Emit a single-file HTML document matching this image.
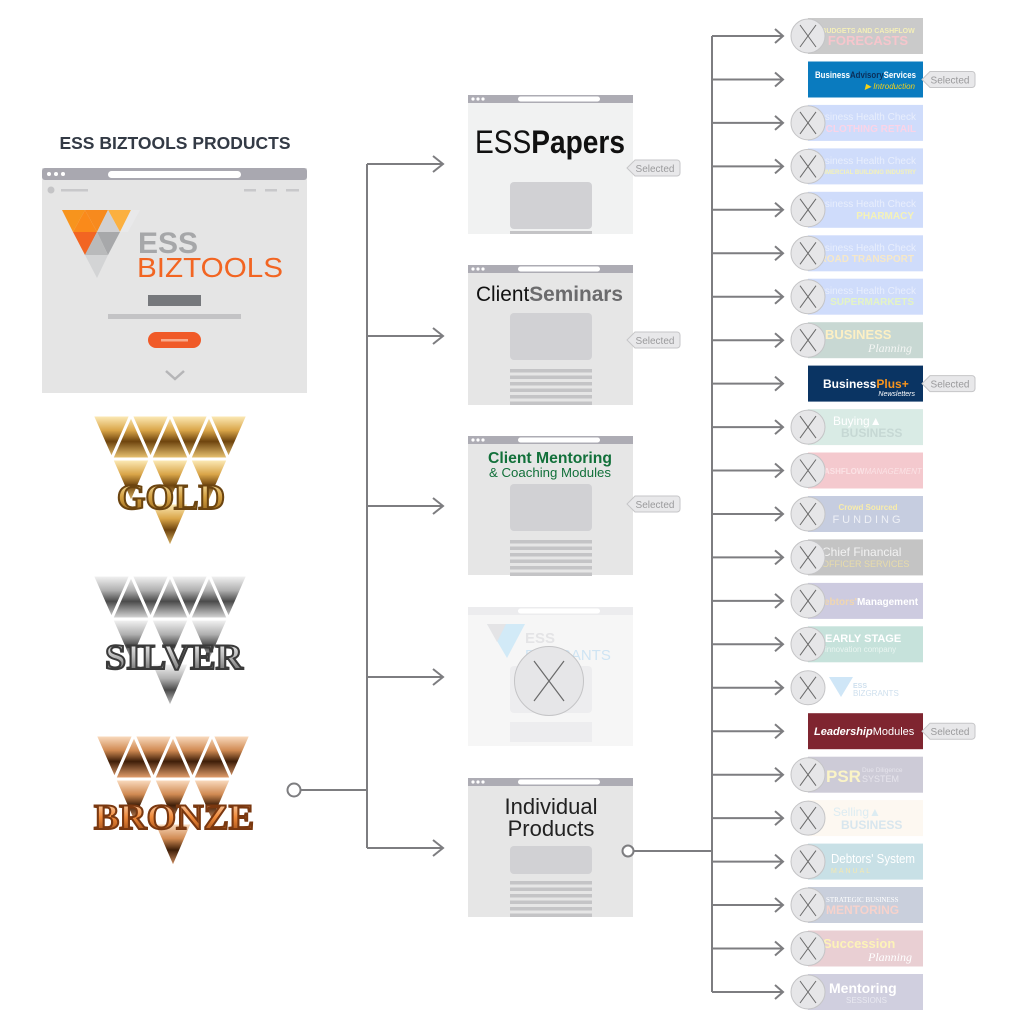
<!DOCTYPE html>
<html><head><meta charset="utf-8"><style>
html,body{margin:0;padding:0;background:#fff;}
svg{display:block;font-family:"Liberation Sans",sans-serif;}
</style></head><body>
<svg width="1024" height="1024" viewBox="0 0 1024 1024" xmlns="http://www.w3.org/2000/svg">
<defs>
<linearGradient id="gold" x1="0" y1="0" x2="0" y2="1"><stop offset="0" stop-color="#fff0c0"/><stop offset=".35" stop-color="#d9a548"/><stop offset=".6" stop-color="#6e440e"/><stop offset="1" stop-color="#f2cc78"/></linearGradient>
<linearGradient id="silver" x1="0" y1="0" x2="0" y2="1"><stop offset="0" stop-color="#f8f8f8"/><stop offset=".35" stop-color="#b0b0b0"/><stop offset=".6" stop-color="#4a4a4a"/><stop offset="1" stop-color="#e0e0e0"/></linearGradient>
<linearGradient id="bronze" x1="0" y1="0" x2="0" y2="1"><stop offset="0" stop-color="#fde2c8"/><stop offset=".35" stop-color="#d08a52"/><stop offset=".6" stop-color="#3e1e08"/><stop offset="1" stop-color="#f0a874"/></linearGradient>
<linearGradient id="goldT" x1="0" y1="0" x2="0" y2="1"><stop offset="0" stop-color="#fff3c4"/><stop offset=".5" stop-color="#d4a040"/><stop offset="1" stop-color="#8a5a14"/></linearGradient>
<linearGradient id="silverT" x1="0" y1="0" x2="0" y2="1"><stop offset="0" stop-color="#ffffff"/><stop offset=".5" stop-color="#b8b8b8"/><stop offset="1" stop-color="#555"/></linearGradient>
<linearGradient id="bronzeT" x1="0" y1="0" x2="0" y2="1"><stop offset="0" stop-color="#fde8d4"/><stop offset=".5" stop-color="#f08a3a"/><stop offset="1" stop-color="#8a3e10"/></linearGradient>
<g id="tri" stroke="#fff" stroke-width="3" stroke-linejoin="round">
<polygon points="0,0 39,0 19.5,44"/><polygon points="39,0 78,0 58.5,44"/><polygon points="78,0 117,0 97.5,44"/><polygon points="117,0 156,0 136.5,44"/>
<polygon points="39,0 58.5,44 19.5,44"/><polygon points="78,0 97.5,44 58.5,44"/><polygon points="117,0 136.5,44 97.5,44"/>
<polygon points="19.5,44 58.5,44 39,88"/><polygon points="58.5,44 97.5,44 78,88"/><polygon points="97.5,44 136.5,44 117,88"/>
<polygon points="58.5,88 97.5,88 78,133"/>
</g>
<g id="xc"><circle r="17" fill="#e6e6e8" stroke="#c4c4c6" stroke-width="1"/><path d="M-8,-11 L8,11 M8,-11 L-8,11" stroke="#6a6a6a" stroke-width="1"/></g>
<g id="tag"><path d="M6,-8 H48 a3,3 0 0 1 3,3 V5 a3,3 0 0 1 -3,3 H6 L-2,0 Z" fill="#e8e8ea" stroke="#c6c6c8"/><text x="26" y="4" font-size="10" fill="#9a9a9c" text-anchor="middle">Selected</text></g>
<g id="bar"><rect width="165" height="8" fill="#adacb4"/><circle cx="5" cy="4" r="1.6" fill="#fff"/><circle cx="10" cy="4" r="1.6" fill="#fff"/><circle cx="15" cy="4" r="1.6" fill="#fff"/><rect x="50" y="1.5" width="82" height="5" rx="2.5" fill="#fff"/></g>
<g id="lines" fill="#c4c4c6"><rect width="82" height="3.5"/><rect y="6.5" width="82" height="3.5"/><rect y="13" width="82" height="3.5"/><rect y="19.5" width="82" height="3.5"/><rect y="26" width="82" height="3.5"/><rect y="32.5" width="82" height="3.5"/></g>
</defs>

<text x="175" y="149" font-size="17.5" font-weight="bold" fill="#333a45" text-anchor="middle">ESS BIZTOOLS PRODUCTS</text>

<rect x="42" y="168" width="265" height="225" fill="#e5e5e5"/>
<rect x="42" y="168" width="265" height="12" rx="3" fill="#a9a8b0"/>
<circle cx="49" cy="174" r="2" fill="#fff"/><circle cx="56" cy="174" r="2" fill="#fff"/><circle cx="63" cy="174" r="2" fill="#fff"/>
<rect x="108" y="171" width="133" height="7" rx="3.5" fill="#fff"/>
<circle cx="51" cy="190" r="3.5" fill="#c4c4c6"/><rect x="61" y="189" width="27" height="2.5" fill="#c8c8ca"/>
<rect x="244" y="189" width="12" height="2.5" fill="#c8c8ca"/><rect x="265" y="189" width="12" height="2.5" fill="#c8c8ca"/><rect x="286" y="189" width="13" height="2.5" fill="#c8c8ca"/>
<polygon points="62,210 85,210 73,232" fill="#f7941d"/><polygon points="85,210 108,210 97,232" fill="#f78a1e"/><polygon points="108,210 131,210 120,232" fill="#fbb040"/>
<polygon points="131,210 140,210 128,232 120,232" fill="#e9e9ea"/>
<polygon points="85,210 97,232 73,232" fill="#fa8a1a"/><polygon points="108,210 120,232 97,232" fill="#d0d0d2"/>
<polygon points="73,232 97,232 85,255" fill="#f26522"/><polygon points="97,232 120,232 108,255" fill="#a7a8aa"/><polygon points="97,232 108,255 85,255" fill="#b9babb"/>
<polygon points="85,255 108,255 97,278" fill="#d3d4d5"/>
<text x="138" y="253" font-size="30" font-weight="bold" fill="#a6a7a9">ESS</text>
<text x="137" y="277" font-size="28" fill="#f26522" textLength="146" lengthAdjust="spacingAndGlyphs">BIZTOOLS</text>
<rect x="148" y="295" width="53" height="11" fill="#76787c"/>
<rect x="108" y="314" width="133" height="5" fill="#c3c3c5"/>
<rect x="148" y="332" width="53" height="16" rx="8" fill="#f05a28"/><rect x="161" y="339" width="27" height="2.5" fill="#f9a98a"/>
<path d="M166,371 L175,379 L184,371" stroke="#b5b5b7" stroke-width="2.5" fill="none"/>

<use href="#tri" x="92" y="415" fill="url(#gold)"/>
<text x="171" y="509" font-family="Liberation Serif,serif" font-weight="bold" font-size="36" fill="url(#goldT)" stroke="#6b4410" stroke-width="2" text-anchor="middle" textLength="108" lengthAdjust="spacingAndGlyphs">GOLD</text>
<use href="#tri" x="92" y="575" fill="url(#silver)"/>
<text x="174" y="669" font-family="Liberation Serif,serif" font-weight="bold" font-size="36" fill="url(#silverT)" stroke="#3a3a3a" stroke-width="2" text-anchor="middle" textLength="138" lengthAdjust="spacingAndGlyphs">SILVER</text>
<use href="#tri" x="95" y="735" fill="url(#bronze)"/>
<text x="174" y="829" font-family="Liberation Serif,serif" font-weight="bold" font-size="36" fill="url(#bronzeT)" stroke="#7a3810" stroke-width="2" text-anchor="middle" textLength="160" lengthAdjust="spacingAndGlyphs">BRONZE</text>

<g stroke="#7d7d80" stroke-width="2" fill="none">
<circle cx="294" cy="790" r="6.5" fill="#fff"/>
<path d="M301,790 H367 M367,164 V848"/>
<path d="M367,164 H443 M367,336 H443 M367,506 H443 M367,677 H443 M367,848 H443"/>
<path d="M433,156 L443,164 L433,172 M433,328 L443,336 L433,344 M433,498 L443,506 L433,514 M433,669 L443,677 L433,685 M433,840 L443,848 L433,856"/>
</g>

<rect x="468" y="95" width="165" height="139" fill="#f1f2f2"/>
<use href="#bar" x="468" y="95"/>
<text x="550" y="153" font-size="32" text-anchor="middle" fill="#111" textLength="150" lengthAdjust="spacingAndGlyphs">ESS<tspan font-weight="bold">Papers</tspan></text>
<rect x="510" y="182" width="82" height="47" rx="4" fill="#d1d1d4"/><rect x="510" y="231" width="82" height="3" fill="#c4c4c6"/>
<use href="#tag" x="629" y="168"/>

<rect x="468" y="265" width="165" height="140" fill="#e6e6e6"/>
<use href="#bar" x="468" y="265"/>
<text x="476" y="301" font-size="21" fill="#111" textLength="147" lengthAdjust="spacingAndGlyphs">Client<tspan font-weight="bold" fill="#6b6b6d">Seminars</tspan></text>
<rect x="510" y="313" width="82" height="47" rx="4" fill="#d1d1d4"/>
<use href="#lines" x="510" y="369"/>
<use href="#tag" x="629" y="340"/>

<rect x="468" y="436" width="165" height="139" fill="#e6e6e6"/>
<use href="#bar" x="468" y="436"/>
<text x="550" y="463" font-size="16" font-weight="bold" fill="#12703a" text-anchor="middle" textLength="124" lengthAdjust="spacingAndGlyphs">Client Mentoring</text>
<text x="550" y="477" font-size="12.5" fill="#12703a" text-anchor="middle" textLength="122" lengthAdjust="spacingAndGlyphs">&amp; Coaching Modules</text>
<rect x="510" y="484" width="82" height="47" rx="4" fill="#d1d1d4"/>
<use href="#lines" x="510" y="540"/>
<use href="#tag" x="629" y="504"/>

<rect x="468" y="607" width="165" height="139" fill="#f6f6f6"/>
<rect x="468" y="607" width="165" height="8" fill="#ececee"/><rect x="518" y="608.5" width="82" height="5" rx="2.5" fill="#fff"/>
<polygon points="487,624 525,624 507,658" fill="#d2eaf7"/><polygon points="487,624 506,624 497,642" fill="#e4e4e6"/>
<text x="525" y="643" font-size="15" font-weight="bold" fill="#e4e4e6">ESS</text>
<text x="525" y="660" font-size="15" fill="#cfe4f3">BIZGRANTS</text>
<rect x="510" y="666" width="82" height="47" rx="4" fill="#ededef"/>
<rect x="510" y="722" width="82" height="20" fill="#ededef"/>
<circle cx="549" cy="681" r="34.5" fill="#e6e6e8" stroke="#c4c4c6"/>
<path d="M534,661 L564,701 M564,661 L534,701" stroke="#6a6a6a" stroke-width="1.2"/>

<rect x="468" y="778" width="165" height="139" fill="#e6e6e6"/>
<use href="#bar" x="468" y="778"/>
<text x="551" y="814" font-size="22" fill="#222" text-anchor="middle">Individual</text>
<text x="551" y="836" font-size="22" fill="#222" text-anchor="middle">Products</text>
<rect x="510" y="846" width="82" height="28" rx="4" fill="#d1d1d4"/>
<use href="#lines" x="510" y="881"/>

<g stroke="#7d7d80" stroke-width="2" fill="none">
<circle cx="628" cy="851" r="5.5" fill="#fff"/>
<path d="M634,851 H712 M712,36 V992"/>
</g>
<g stroke="#7d7d80" stroke-width="2" fill="none">
<path d="M712,36 H783 M775,29 L783,36 L775,43"/>
<path d="M712,79.5 H783 M775,72.5 L783,79.5 L775,86.5"/>
<path d="M712,122.9 H783 M775,115.9 L783,122.9 L775,129.9"/>
<path d="M712,166.4 H783 M775,159.4 L783,166.4 L775,173.4"/>
<path d="M712,209.8 H783 M775,202.8 L783,209.8 L775,216.8"/>
<path d="M712,253.3 H783 M775,246.3 L783,253.3 L775,260.3"/>
<path d="M712,296.7 H783 M775,289.7 L783,296.7 L775,303.7"/>
<path d="M712,340.2 H783 M775,333.2 L783,340.2 L775,347.2"/>
<path d="M712,383.6 H783 M775,376.6 L783,383.6 L775,390.6"/>
<path d="M712,427.1 H783 M775,420.1 L783,427.1 L775,434.1"/>
<path d="M712,470.5 H783 M775,463.5 L783,470.5 L775,477.5"/>
<path d="M712,514 H783 M775,507 L783,514 L775,521"/>
<path d="M712,557.4 H783 M775,550.4 L783,557.4 L775,564.4"/>
<path d="M712,600.9 H783 M775,593.9 L783,600.9 L775,607.9"/>
<path d="M712,644.3 H783 M775,637.3 L783,644.3 L775,651.3"/>
<path d="M712,687.8 H783 M775,680.8 L783,687.8 L775,694.8"/>
<path d="M712,731.2 H783 M775,724.2 L783,731.2 L775,738.2"/>
<path d="M712,774.7 H783 M775,767.7 L783,774.7 L775,781.7"/>
<path d="M712,818.1 H783 M775,811.1 L783,818.1 L775,825.1"/>
<path d="M712,861.6 H783 M775,854.6 L783,861.6 L775,868.6"/>
<path d="M712,905 H783 M775,898 L783,905 L775,912"/>
<path d="M712,948.5 H783 M775,941.5 L783,948.5 L775,955.5"/>
<path d="M712,992 H783 M775,985 L783,992 L775,999"/>
</g>

<g font-size="9">
<rect x="808" y="18" width="115" height="36" fill="#cacaca"/>
<text x="868" y="33" font-size="7" font-weight="bold" fill="#f4efb8" text-anchor="middle">BUDGETS AND CASHFLOW</text>
<text x="868" y="45" font-size="13" font-weight="bold" fill="#f6c6cc" text-anchor="middle">FORECASTS</text>

<rect x="808" y="61.5" width="115" height="36" fill="#0a7bbf"/>
<text x="815" y="78" font-size="9.5" font-weight="bold" fill="#fff" textLength="101" lengthAdjust="spacingAndGlyphs">Business<tspan fill="#0b2f5a">Advisory</tspan>Services</text>
<text x="915" y="89" font-size="8" font-style="italic" fill="#f2d21a" text-anchor="end">▶ Introduction</text>

<rect x="808" y="104.9" width="115" height="36" fill="#cfdcfb"/>
<text x="916" y="120" font-size="10" fill="#e8eefc" text-anchor="end">usiness Health Check</text>
<text x="916" y="132" font-size="10" font-weight="bold" fill="#fad4e8" text-anchor="end">CLOTHING RETAIL</text>

<rect x="808" y="148.4" width="115" height="36" fill="#cfdcfb"/>
<text x="916" y="164" font-size="10" fill="#e8eefc" text-anchor="end">usiness Health Check</text>
<text x="916" y="174" font-size="6" font-weight="bold" fill="#f4f2b8" text-anchor="end">MMERCIAL BUILDING INDUSTRY</text>

<rect x="808" y="191.8" width="115" height="36" fill="#cfdcfb"/>
<text x="916" y="207" font-size="10" fill="#e8eefc" text-anchor="end">usiness Health Check</text>
<text x="914" y="219" font-size="10" font-weight="bold" fill="#f4f2b8" text-anchor="end">PHARMACY</text>

<rect x="808" y="235.3" width="115" height="36" fill="#cfdcfb"/>
<text x="916" y="251" font-size="10" fill="#e8eefc" text-anchor="end">usiness Health Check</text>
<text x="914" y="262" font-size="10" font-weight="bold" fill="#f6e8c8" text-anchor="end">ROAD TRANSPORT</text>

<rect x="808" y="278.7" width="115" height="36" fill="#cfdcfb"/>
<text x="916" y="294" font-size="10" fill="#e8eefc" text-anchor="end">usiness Health Check</text>
<text x="914" y="305" font-size="10" font-weight="bold" fill="#e4f4c4" text-anchor="end">SUPERMARKETS</text>

<rect x="808" y="322.2" width="115" height="36" fill="#c8d8d3"/>
<text x="825" y="339" font-size="13" font-weight="bold" fill="#fdf0c4">BUSINESS</text>
<text x="912" y="352" font-size="12" font-style="italic" font-family="Liberation Serif,serif" fill="#f4f6f4" text-anchor="end">Planning</text>

<rect x="808" y="365.6" width="115" height="36" fill="#0a3463"/>
<text x="823" y="388" font-size="12" font-weight="bold" fill="#fff">Business<tspan fill="#f7941d">Plus+</tspan></text>
<text x="915" y="396" font-size="7" font-style="italic" fill="#fff" text-anchor="end">Newsletters</text>

<rect x="808" y="409.1" width="115" height="36" fill="#d9ebe5"/>
<text x="833" y="425" font-size="12" fill="#fff">Buying▲</text>
<text x="841" y="437" font-size="12" font-weight="bold" fill="#c6d8d4">BUSINESS</text>

<rect x="808" y="452.5" width="115" height="36" fill="#f4c9ce"/>
<text x="824" y="474" font-size="8" font-weight="bold" fill="#fbe2e5">ASHFLOW<tspan font-weight="normal" font-style="italic">MANAGEMENT</tspan></text>

<rect x="808" y="496" width="115" height="36" fill="#c6cde0"/>
<text x="868" y="510" font-size="8" font-weight="bold" fill="#f8ecaa" text-anchor="middle">Crowd  Sourced</text>
<text x="868" y="523" font-size="11" fill="#eef0f6" text-anchor="middle" letter-spacing="3">FUNDING</text>

<rect x="808" y="539.4" width="115" height="36" fill="#c4c4c4"/>
<text x="822" y="556" font-size="12" fill="#f2f2f2">Chief Financial</text>
<text x="822" y="567" font-size="9" fill="#e8dcaa">OFFICER SERVICES</text>

<rect x="808" y="582.9" width="115" height="36" fill="#cdcbe0"/>
<text x="824" y="605" font-size="10" font-weight="bold" fill="#f0d6b0">ebtors'<tspan fill="#fff">Management</tspan></text>

<rect x="808" y="626.3" width="115" height="36" fill="#c6e2db"/>
<text x="825" y="642" font-size="11" font-weight="bold" fill="#fff">EARLY STAGE</text>
<text x="825" y="652" font-size="8" fill="#e8f4f0">innovation company</text>

<rect x="808" y="669.8" width="115" height="36" fill="#ffffff"/>
<polygon points="829,677 853,677 841,697" fill="#cfe6f7"/>
<text x="853" y="688" font-size="7" font-weight="bold" fill="#cfe0ee">ESS</text>
<text x="853" y="696" font-size="8" fill="#cfe0ee">BIZGRANTS</text>

<rect x="808" y="713.2" width="115" height="36" fill="#7f2530"/>
<text x="814" y="735" font-size="11" font-weight="bold" font-style="italic" fill="#fff">Leadership<tspan font-weight="normal" font-style="normal">Modules</tspan></text>

<rect x="808" y="756.7" width="115" height="36" fill="#cdcbd7"/>
<text x="826" y="782" font-size="17" font-weight="bold" fill="#fbf4c6">PSR</text>
<text x="862" y="772" font-size="6.5" fill="#e6e4ec">Due Diligence</text>
<text x="862" y="782" font-size="9" fill="#e6e4ec">SYSTEM</text>

<rect x="808" y="800.1" width="115" height="36" fill="#fdf8f1"/>
<text x="833" y="816" font-size="12" fill="#dcecf2">Selling▲</text>
<text x="841" y="829" font-size="12" font-weight="bold" fill="#d8e6ee">BUSINESS</text>

<rect x="808" y="843.6" width="115" height="36" fill="#c8e0e6"/>
<text x="831" y="863" font-size="13" fill="#fff" textLength="84" lengthAdjust="spacingAndGlyphs">Debtors' System</text>
<text x="831" y="873" font-size="7" fill="#f4e8b0" letter-spacing="2">MANUAL</text>

<rect x="808" y="887" width="115" height="36" fill="#c9cfdc"/>
<text x="826" y="902" font-size="7" font-family="Liberation Serif,serif" fill="#fff">STRATEGIC BUSINESS</text>
<text x="826" y="914" font-size="12" font-weight="bold" fill="#f6d2cc">MENTORING</text>

<rect x="808" y="930.5" width="115" height="36" fill="#e9cfd3"/>
<text x="823" y="948" font-size="13" font-weight="bold" fill="#fdf3b8">Succession</text>
<text x="912" y="961" font-size="12" font-style="italic" font-family="Liberation Serif,serif" fill="#fff" text-anchor="end">Planning</text>

<rect x="808" y="974" width="115" height="36" fill="#d0cfdf"/>
<text x="829" y="993" font-size="14" font-weight="bold" fill="#fff">Mentoring</text>
<text x="846" y="1003" font-size="8" fill="#e8e8f0">SESSIONS</text>
</g>

<use href="#xc" x="808" y="36"/>
<use href="#xc" x="808" y="122.9"/>
<use href="#xc" x="808" y="166.4"/>
<use href="#xc" x="808" y="209.8"/>
<use href="#xc" x="808" y="253.3"/>
<use href="#xc" x="808" y="296.7"/>
<use href="#xc" x="808" y="340.2"/>
<use href="#xc" x="808" y="427.1"/>
<use href="#xc" x="808" y="470.5"/>
<use href="#xc" x="808" y="514"/>
<use href="#xc" x="808" y="557.4"/>
<use href="#xc" x="808" y="600.9"/>
<use href="#xc" x="808" y="644.3"/>
<use href="#xc" x="808" y="687.8"/>
<use href="#xc" x="808" y="774.7"/>
<use href="#xc" x="808" y="818.1"/>
<use href="#xc" x="808" y="861.6"/>
<use href="#xc" x="808" y="905"/>
<use href="#xc" x="808" y="948.5"/>
<use href="#xc" x="808" y="992"/>

<use href="#tag" x="924" y="79.5"/>
<use href="#tag" x="924" y="383.6"/>
<use href="#tag" x="924" y="731.2"/>
</svg>
</body></html>
